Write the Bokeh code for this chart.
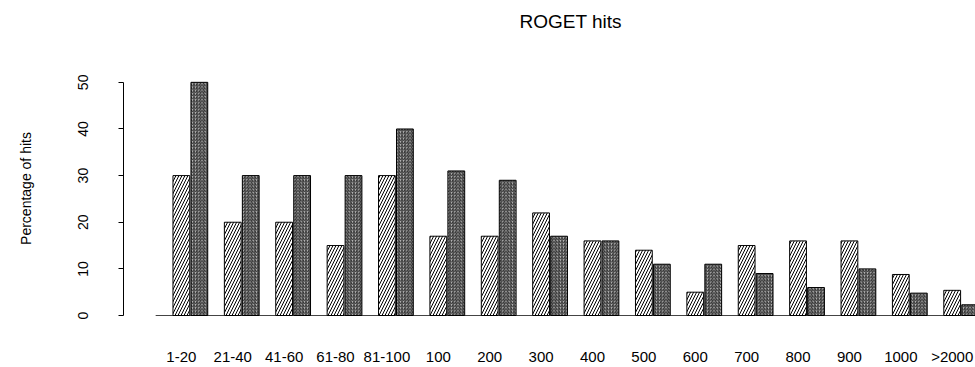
from bokeh.plotting import figure
from bokeh.models import ColumnDataSource, FixedTicker, Range1d
from bokeh.embed import file_html
from bokeh.resources import INLINE

# ---- data ----
categories = ["1-20", "21-40", "41-60", "61-80", "81-100", "100", "200", "300",
              "400", "500", "600", "700", "800", "900", "1000", ">2000"]
series_a = [30, 20, 20, 15, 30, 17, 17, 22, 16, 14, 5, 15, 16, 16, 8.8, 5.4]   # light hatch
series_b = [50, 30, 30, 30, 40, 31, 29, 17, 16, 11, 11, 9, 6, 10, 4.8, 2.3]    # dense hatch
y_ticks = [0, 10, 20, 30, 40, 50]

# ---- layout (R barplot style: two bars per group, one bar space between groups) ----
n = len(categories)
xa = [1.5 + 3 * i for i in range(n)]
xb = [2.55 + 3 * i for i in range(n)]
bw = 0.98

src = ColumnDataSource(dict(xa=xa, xb=xb, a=series_a, b=series_b))

FONT = "Liberation Sans"

p = figure(width=975, height=367,
           x_range=Range1d(-1.878, 47.86), y_range=Range1d(-6.43, 60.90),
           output_backend="svg", toolbar_location=None,
           min_border_left=123, min_border_right=0,
           min_border_top=31, min_border_bottom=19)
p.grid.visible = False
p.outline_line_color = None
p.background_fill_color = "white"
p.border_fill_color = "white"

# baseline under the bars
p.segment(x0=[0], y0=[0], x1=[3 * n], y1=[0], line_color="#444444", line_width=1)

p.vbar(x="xa", top="a", bottom=0, width=bw, source=src,
       fill_color="white", line_color="black", line_width=1,
       hatch_pattern="/", hatch_scale=6, hatch_weight=1, hatch_color="black")
p.vbar(x="xb", top="b", bottom=0, width=bw, source=src,
       fill_color="#bcbcbc", line_color="black", line_width=1,
       hatch_pattern="/", hatch_scale=3.2, hatch_weight=1.0, hatch_color="#222222")

# x axis: category names under the first bar of each pair
xax = p.xaxis[0]
xax.ticker = FixedTicker(ticks=xa)
xax.major_label_overrides = {x: c for x, c in zip(xa, categories)}
xax.axis_line_color = None
xax.major_tick_line_color = None
xax.minor_tick_line_color = None
xax.major_tick_out = 0
xax.major_tick_in = 0
xax.major_label_standoff = 2
xax.major_label_text_font = FONT
xax.major_label_text_font_size = "15px"
xax.major_label_text_color = "black"

# y axis
yax = p.yaxis[0]
yax.ticker = FixedTicker(ticks=y_ticks)
yax.bounds = (0, 50)
yax.axis_line_color = "black"
yax.major_tick_line_color = "black"
yax.minor_tick_line_color = None
yax.major_tick_out = 5
yax.major_tick_in = 0
yax.major_label_orientation = "vertical"
yax.major_label_standoff = 30
yax.major_label_text_font = FONT
yax.major_label_text_font_size = "14px"
yax.major_label_text_color = "black"
yax.axis_label = "Percentage of hits"
yax.axis_label_text_font = FONT
yax.axis_label_text_font_size = "14px"
yax.axis_label_text_font_style = "normal"
yax.axis_label_text_color = "black"
yax.axis_label_standoff = 42

# title
p.title.text = "ROGET hits"
p.title.align = "left"
p.title.offset = 396
p.title.vertical_align = "bottom"
p.title.standoff = 0
p.title.text_font = FONT
p.title.text_font_size = "19px"
p.title.text_font_style = "normal"
p.title.text_color = "black"

open("out.html", "w").write(file_html(p, INLINE))
